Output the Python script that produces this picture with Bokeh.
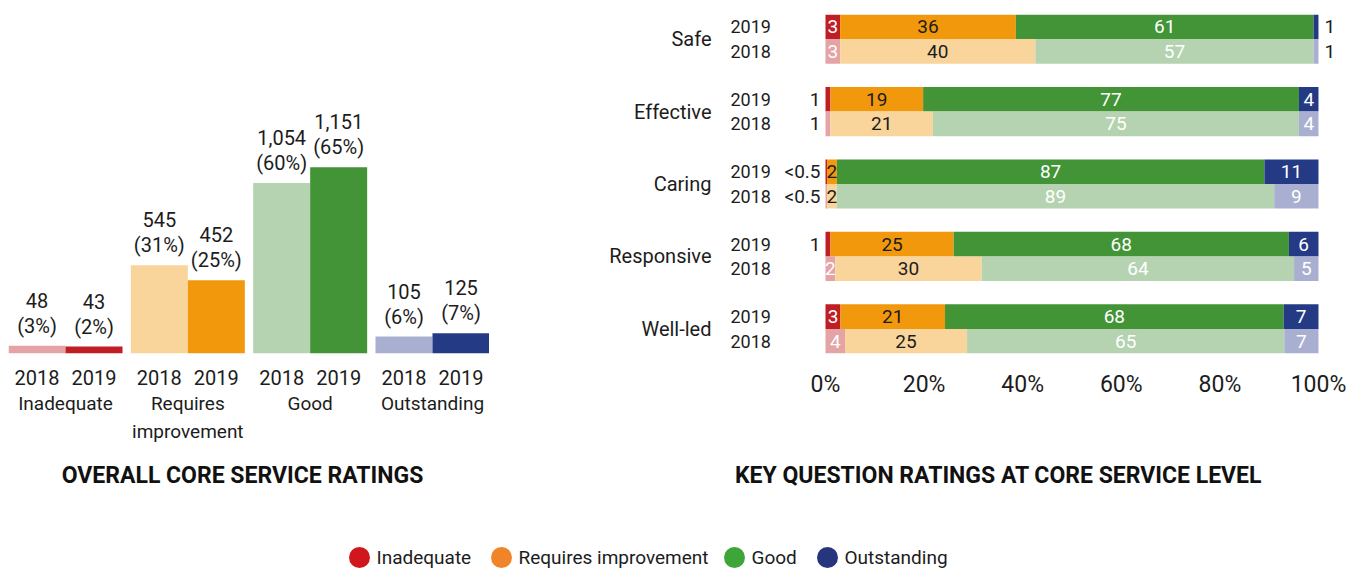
from bokeh.plotting import figure
from bokeh.models import (ColumnDataSource, FactorRange, Range1d, FixedTicker,
                          PrintfTickFormatter, Spacer)
from bokeh.layouts import column, row
from bokeh.core.properties import value
from bokeh.embed import file_html
from bokeh.resources import INLINE

FONT = "Roboto"
TXT = "#1c1c1c"

# ---------------- data: overall core service ratings ----------------
rating_names = ["Inadequate", "Requires improvement", "Good", "Outstanding"]
axis_group_labels = ["Inadequate", "Requires\nimprovement", "Good", "Outstanding"]
years = ["2018", "2019"]
counts_2018 = [48, 545, 1054, 105]
counts_2019 = [43, 452, 1151, 125]
pct_2018 = [3, 31, 60, 6]
pct_2019 = [2, 25, 65, 7]

# ---------------- data: key question ratings (%) ----------------
questions = ["Safe", "Effective", "Caring", "Responsive", "Well-led"]
inadequate_2019 = [3, 1, 0.3, 1, 3]
requires_2019 = [36, 19, 2, 25, 21]
good_2019 = [61, 77, 87, 68, 68]
outstanding_2019 = [1, 4, 11, 6, 7]
inadequate_2018 = [3, 1, 0.3, 2, 4]
requires_2018 = [40, 21, 2, 30, 25]
good_2018 = [57, 75, 89, 64, 65]
outstanding_2018 = [1, 4, 9, 5, 7]
pct_ticks = [0, 20, 40, 60, 80, 100]

chart_titles = ["OVERALL CORE SERVICE RATINGS", "KEY QUESTION RATINGS AT CORE SERVICE LEVEL"]

colors_2019 = ["#BE1E24", "#F2980C", "#429437", "#243A85"]
colors_2018 = ["#E4A3A4", "#F9D59B", "#B5D3B0", "#A8AFD0"]
legend_colors = ["#D1161E", "#F08428", "#3EA638", "#27357F"]

H = 452      # height of the two chart figures
B_TOP = 6    # border above both frames
B_BOT = 107  # border below both frames


def style(p):
    p.outline_line_color = None
    p.xgrid.grid_line_color = None
    p.ygrid.grid_line_color = None
    p.background_fill_color = "white"
    p.border_fill_color = "white"


# ======================= left chart =======================
factors = [(g, y) for g in axis_group_labels for y in years]
left = figure(x_range=FactorRange(*factors, group_padding=0.146, range_padding=0),
              y_range=Range1d(0, 2095), width=481, height=H,
              output_backend="svg", toolbar_location=None,
              x_axis_location=None, y_axis_location=None,
              min_border_left=0, min_border_right=0,
              min_border_top=B_TOP, min_border_bottom=B_BOT)
style(left)

lx, ltop, lcol, lcount, lpct = [], [], [], [], []
for i, g in enumerate(axis_group_labels):
    for y, cnts, pcts, cols in (("2018", counts_2018, pct_2018, colors_2018),
                                ("2019", counts_2019, pct_2019, colors_2019)):
        lx.append((g, y))
        ltop.append(cnts[i])
        lcol.append(cols[i])
        lcount.append(f"{cnts[i]:,}")
        lpct.append(f"({pcts[i]}%)")
lsrc = ColumnDataSource(dict(x=lx, top=ltop, color=lcol, count=lcount, pct=lpct,
                             year=[f[1] for f in lx], base=[0] * len(lx)))
left.vbar(x="x", top="top", width=1.0, fill_color="color", line_color=None, source=lsrc)
left.text(x="x", y="top", text="pct", source=lsrc, y_offset=-8,
          text_align="center", text_baseline="bottom", text_color=TXT,
          text_font=value(FONT), text_font_size=value("20px"), level="annotation")
left.text(x="x", y="top", text="count", source=lsrc, y_offset=-38,
          text_align="center", text_baseline="bottom", text_color=TXT,
          text_font=value(FONT), text_font_size=value("20px"), level="annotation")
# category axis labels (years, then rating names)
left.text(x="x", y="base", text="year", source=lsrc, y_offset=24,
          text_align="center", text_baseline="middle", text_color=TXT,
          text_font=value(FONT), text_font_size=value("20px"), level="annotation")
left.text(x=axis_group_labels, y=[0] * len(axis_group_labels), text=axis_group_labels,
          y_offset=38, text_align="center", text_baseline="top", text_color=TXT,
          text_line_height=1.22,
          text_font=value(FONT), text_font_size=value("19px"), level="annotation")

# ======================= right chart =======================
yfactors = []
for q in reversed(questions):
    yfactors += [(q, "2018"), (q, "2019")]

right = figure(y_range=FactorRange(*yfactors, group_padding=0.947, range_padding=0),
               x_range=Range1d(-47.67, 106.9), width=762, height=H,
               output_backend="svg", toolbar_location=None, y_axis_location=None,
               min_border_left=0, min_border_right=0,
               min_border_top=B_TOP, min_border_bottom=B_BOT)
style(right)

series = {"2019": [inadequate_2019, requires_2019, good_2019, outstanding_2019],
          "2018": [inadequate_2018, requires_2018, good_2018, outstanding_2018]}
seg = dict(y=[], left=[], right=[], color=[])
inside = dict(x=[], y=[], text=[], color=[])
out_l = dict(x=[], y=[], text=[])
out_r = dict(x=[], y=[], text=[])
for yr in ["2019", "2018"]:
    cols = colors_2019 if yr == "2019" else colors_2018
    for i, q in enumerate(questions):
        vals = [s[i] for s in series[yr]]
        total = sum(vals)
        start = 0.0
        for k, v in enumerate(vals):
            w = v / total * 100
            seg["y"].append((q, yr))
            seg["left"].append(start)
            seg["right"].append(start + w)
            seg["color"].append(cols[k])
            lab = "<0.5" if v < 0.5 else f"{v:g}"
            if w >= 1.5:
                inside["x"].append(start + w / 2)
                inside["y"].append((q, yr))
                inside["text"].append(lab)
                inside["color"].append(TXT if k == 1 else "white")
            elif k == 0:
                out_l["x"].append(start)
                out_l["y"].append((q, yr))
                out_l["text"].append(lab)
            else:
                out_r["x"].append(start + w)
                out_r["y"].append((q, yr))
                out_r["text"].append(lab)
            start += w

right.hbar(y="y", left="left", right="right", height=1.0, fill_color="color",
           line_color=None, source=ColumnDataSource(seg))
right.text(x="x", y="y", text="text", text_color="color", source=ColumnDataSource(inside),
           text_align="center", text_baseline="middle",
           text_font=value(FONT), text_font_size=value("19px"))
right.text(x="x", y="y", text="text", source=ColumnDataSource(out_l), x_offset=-5,
           text_align="right", text_baseline="middle", text_color=TXT,
           text_font=value(FONT), text_font_size=value("19px"))
right.text(x="x", y="y", text="text", source=ColumnDataSource(out_r), x_offset=6,
           text_align="left", text_baseline="middle", text_color=TXT,
           text_font=value(FONT), text_font_size=value("19px"))

# row labels (years) and question labels
yl = dict(x=[0] * (2 * len(questions)), y=[(q, y) for q in questions for y in ["2019", "2018"]],
          text=[y for q in questions for y in ["2019", "2018"]])
right.text(x="x", y="y", text="text", source=ColumnDataSource(yl), x_offset=-95,
           text_align="left", text_baseline="middle", text_color=TXT,
           text_font=value(FONT), text_font_size=value("18px"))
ql = dict(x=[0] * len(questions), y=questions, text=questions)
right.text(x="x", y="y", text="text", source=ColumnDataSource(ql), x_offset=-114,
           text_align="right", text_baseline="middle", text_color=TXT,
           text_font=value(FONT), text_font_size=value("20px"))

xa = right.xaxis[0]
xa.ticker = FixedTicker(ticks=pct_ticks)
xa.formatter = PrintfTickFormatter(format="%d%%")
xa.axis_line_color = None
xa.major_tick_line_color = None
xa.minor_tick_line_color = None
xa.major_tick_out = 0
xa.major_label_standoff = 17
xa.major_label_text_font = FONT
xa.major_label_text_font_size = "23px"
xa.major_label_text_color = TXT

# ======================= titles + legend =======================
BH = 108
bottom = figure(x_range=Range1d(0, 1344), y_range=Range1d(BH, 0), width=1344, height=BH,
                output_backend="svg", toolbar_location=None,
                x_axis_location=None, y_axis_location=None,
                min_border_left=0, min_border_right=0, min_border_top=0, min_border_bottom=0)
style(bottom)
bottom.text(x=[234, 990], y=[15, 15], text=chart_titles, text_align="center",
            text_baseline="middle", text_color="#111111", text_font=value(FONT),
            text_font_size=value("23px"), text_font_style="bold")
leg_x = [351, 493, 726, 819]
leg_y = [97] * 4
bottom.scatter(x=leg_x, y=leg_y, size=21, marker="circle", fill_color=legend_colors,
               line_color=None)
bottom.text(x=[v + 17 for v in leg_x], y=leg_y, text=rating_names, text_align="left",
            text_baseline="middle", text_color=TXT, text_font=value(FONT),
            text_font_size=value("19px"))

layout = column(
    Spacer(width=1352, height=8),
    row(Spacer(width=8, height=H), left, Spacer(width=101, height=H), right),
    row(Spacer(width=8, height=BH), bottom),
)
open("out.html", "w").write(file_html(layout, INLINE))
